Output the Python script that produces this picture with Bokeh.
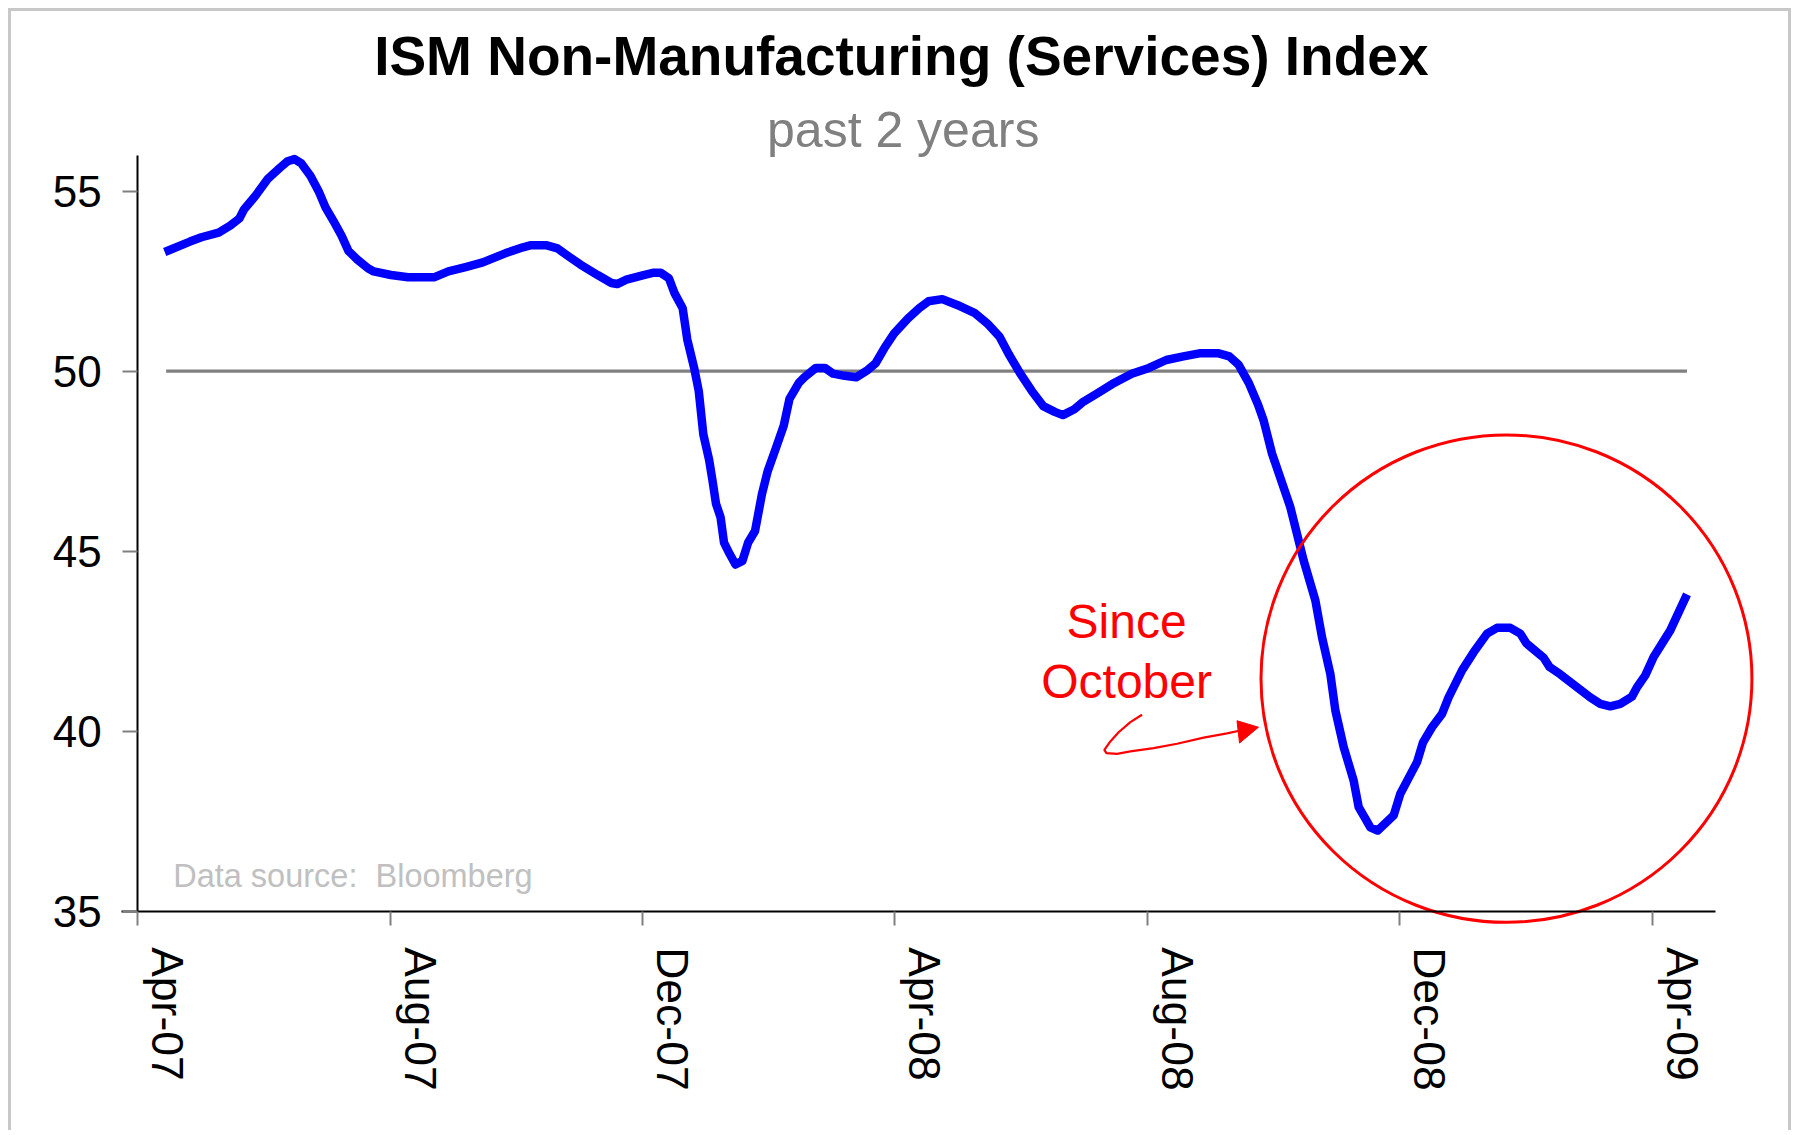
import math
from bokeh.plotting import figure
from bokeh.models import FixedTicker, Label
from bokeh.core.properties import value
from bokeh.embed import file_html
from bokeh.resources import INLINE

FONT = "Liberation Sans"

# ---- data (x = months since Apr-07, y = index value) ----
month_pos = [0.427, 0.827, 1.009, 1.282, 1.464, 1.610, 1.683, 1.865, 2.065, 2.247,
             2.374, 2.484, 2.593, 2.738, 2.866, 2.975, 3.102, 3.230, 3.339, 3.466,
             3.648, 3.739, 4.012, 4.285, 4.704, 4.922, 5.195, 5.468, 5.832, 6.105,
             6.233, 6.469, 6.651, 6.833, 7.015, 7.288, 7.506, 7.598, 7.743, 8.016,
             8.162, 8.289, 8.417, 8.508, 8.635, 8.708, 8.817, 8.890, 8.963, 9.054,
             9.108, 9.163, 9.236, 9.290, 9.381, 9.472, 9.582, 9.673, 9.782, 9.891,
             9.982, 10.110, 10.237, 10.328, 10.474, 10.564, 10.746, 10.892, 11.020, 11.202,
             11.384, 11.566, 11.693, 11.839, 11.984, 12.203, 12.385, 12.530, 12.749, 12.985,
             13.258, 13.477, 13.659, 13.804, 13.986, 14.168, 14.350, 14.532, 14.660, 14.842,
             14.969, 15.206, 15.442, 15.752, 16.025, 16.298, 16.571, 16.843, 17.116, 17.298,
             17.444, 17.608, 17.753, 17.842, 17.975, 18.265, 18.476, 18.662, 18.767, 18.899,
             18.978, 19.110, 19.268, 19.348, 19.454, 19.533, 19.648, 19.902, 20.008, 20.273,
             20.368, 20.510, 20.669, 20.773, 20.986, 21.169, 21.382, 21.540, 21.751, 21.910,
             22.005, 22.279, 22.374, 22.543, 23.018, 23.177, 23.335, 23.494, 23.679, 23.759,
             23.890, 24.022, 24.286, 24.551]
ism_value = [53.31, 53.60, 53.72, 53.85, 54.04, 54.24, 54.49, 54.87, 55.35, 55.64,
             55.83, 55.89, 55.77, 55.42, 55.00, 54.55, 54.17, 53.76, 53.34, 53.12,
             52.86, 52.77, 52.67, 52.61, 52.61, 52.77, 52.89, 53.02, 53.28, 53.44,
             53.50, 53.50, 53.41, 53.18, 52.96, 52.67, 52.45, 52.42, 52.54, 52.67,
             52.73, 52.73, 52.58, 52.16, 51.75, 50.88, 50.09, 49.45, 48.24, 47.54,
             46.96, 46.32, 45.94, 45.24, 44.92, 44.63, 44.73, 45.24, 45.56, 46.58,
             47.22, 47.85, 48.49, 49.23, 49.67, 49.83, 50.09, 50.09, 49.93, 49.87,
             49.83, 50.03, 50.22, 50.66, 51.04, 51.46, 51.75, 51.94, 52.00, 51.84,
             51.62, 51.30, 50.95, 50.47, 49.93, 49.45, 49.03, 48.87, 48.78, 48.94,
             49.13, 49.38, 49.64, 49.93, 50.09, 50.31, 50.41, 50.50, 50.50, 50.41,
             50.18, 49.67, 49.07, 48.63, 47.71, 46.22, 44.74, 43.63, 42.61, 41.59,
             40.58, 39.56, 38.63, 37.89, 37.57, 37.33, 37.24, 37.66, 38.26, 39.14,
             39.69, 40.11, 40.48, 40.94, 41.69, 42.19, 42.71, 42.87, 42.87, 42.71,
             42.44, 42.04, 41.78, 41.58, 40.94, 40.76, 40.69, 40.76, 40.96, 41.22,
             41.55, 42.06, 42.80, 43.80]

ref_x = [0.45, 24.55]
ref_y = [50, 50]

tick_months = [0, 4, 8, 12, 16, 20, 24]
tick_labels = ["Apr-07", "Aug-07", "Dec-07", "Apr-08", "Aug-08", "Dec-08", "Apr-09"]
label_shift = 0.475
y_ticks = [35, 40, 45, 50, 55]

# annotation data
circle_x, circle_y, circle_w, circle_h = [21.69], [41.46], [7.78], [13.54]
hook_x = [15.915, 15.730, 15.544, 15.402, 15.318, 15.350, 15.519, 15.730, 16.099,
          16.470, 16.891, 17.262, 17.473]
hook_y = [40.456, 40.25, 39.97, 39.69, 39.48, 39.39, 39.37, 39.44, 39.53,
          39.65, 39.82, 39.94, 40.02]
head_x = [17.42, 17.76, 17.46]
head_y = [40.29, 40.11, 39.67]
note_x = [15.67, 15.67]
note_y = [43.04, 41.37]
note_text = ["Since", "October"]

p = figure(width=1783, height=1122, x_range=(-2.001, 25.7), y_range=(28.825, 59.99),
           output_backend="svg", toolbar_location=None,
           min_border_left=0, min_border_right=35, min_border_top=0,
           min_border_bottom=0,
           styles={"margin-left": "8px", "margin-top": "8px",
                   "border-top": "3px solid #c8c8c8",
                   "border-left": "3px solid #c8c8c8",
                   "border-right": "3px solid #c8c8c8"})
p.grid.visible = False
p.outline_line_color = None
p.background_fill_color = "white"
p.border_fill_color = "white"

# x axis
xa = p.xaxis[0]
xa.ticker = FixedTicker(ticks=[m + label_shift for m in tick_months], minor_ticks=tick_months)
xa.major_label_overrides = {m + label_shift: lab for m, lab in zip(tick_months, tick_labels)}
xa.major_label_orientation = -math.pi / 2
xa.fixed_location = 35
xa.bounds = (-0.25, 25.0)
xa.axis_line_color = "black"
xa.axis_line_width = 2
xa.major_tick_line_color = None
xa.major_tick_out = 0
xa.major_tick_in = 0
xa.minor_tick_line_color = "#808080"
xa.minor_tick_line_width = 2
xa.minor_tick_out = 14
xa.minor_tick_in = 0
xa.major_label_standoff = 22
xa.major_label_text_font = FONT
xa.major_label_text_font_size = "44.5px"
xa.major_label_text_color = "black"

# y axis
ya = p.yaxis[0]
ya.ticker = FixedTicker(ticks=y_ticks)
ya.fixed_location = 0
ya.bounds = (35, 56)
ya.axis_line_color = "black"
ya.axis_line_width = 2
ya.major_tick_line_color = "#808080"
ya.major_tick_line_width = 2
ya.major_tick_out = 15
ya.major_tick_in = 0
ya.minor_tick_line_color = None
ya.major_label_standoff = 21
ya.major_label_text_font = FONT
ya.major_label_text_font_size = "44px"
ya.major_label_text_color = "black"

# series
p.line(ref_x, ref_y, line_color="#808080", line_width=3.3)
p.line(month_pos, ism_value, line_color="#0000ff", line_width=8.5, line_join="round")

# annotation: circle, arrow, note
p.ellipse(x=circle_x, y=circle_y, width=circle_w, height=circle_h,
          fill_color=None, line_color="#ff0000", line_width=3)
p.line(hook_x, hook_y, line_color="#ff0000", line_width=2.2)
p.patch(head_x, head_y, fill_color="#ff0000", line_color="#ff0000", line_width=1)
p.text(x=note_x, y=note_y, text=note_text, text_font=value(FONT),
       text_font_size="48px", text_color="#ff0000", text_align="center",
       text_baseline="alphabetic")
p.text(x=[0.561], y=[35.99], text=["Data source:\u00a0 Bloomberg"], text_font=value(FONT),
       text_font_size="32.5px", text_color="#c0c0c0", text_align="left",
       text_baseline="alphabetic")

# titles
p.add_layout(Label(x=12.10, y=58.75, text="ISM Non-Manufacturing (Services) Index",
                   text_font=FONT, text_font_size="55px", text_font_style="bold",
                   text_color="black", text_align="center", text_baseline="alphabetic"))
p.add_layout(Label(x=12.13, y=56.69, text="past 2 years",
                   text_font=FONT, text_font_size="50px",
                   text_color="#808080", text_align="center", text_baseline="alphabetic"))

open("out.html", "w").write(file_html(p, INLINE))
